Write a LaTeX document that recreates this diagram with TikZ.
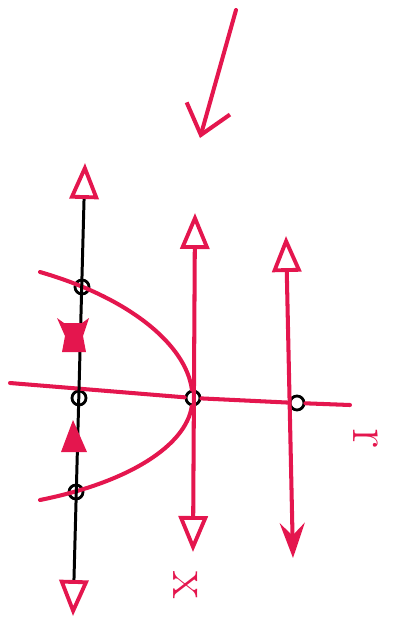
\documentclass[tikz,border=0pt]{standalone}
\usepackage{tikz}
\usetikzlibrary{arrows.meta}
\definecolor{penred}{RGB}{228,22,78}
\tikzset{tri/.tip={Triangle[open, length=0.72cm, width=0.58cm, line width=2.2pt, color=penred]}}

\begin{document}
\begin{tikzpicture}[x=0.02cm, y=-0.02cm,
                    pen/.style={draw=penred, line width=2.3pt, line cap=round, line join=round},
                    hole/.style={circle, draw=black, line width=1.6pt, minimum size=0.28cm, inner sep=0pt},
                    lbl/.style={text=penred, rotate=-90, inner sep=0pt, font=\fontsize{32}{34}\selectfont}]
                    \useasboundingbox (0,0) rectangle (398,630);
                    \coordinate (l1t) at (85,163); \coordinate (l1b) at (73,616);
                    \coordinate (l2t) at (195,213); \coordinate (l2b) at (193,552);
                    \coordinate (l3t) at (286,236); \coordinate (l3b) at (293,558);
                    \coordinate (hl) at (10,383); \coordinate (hr) at (350,405);
                    \coordinate (pt) at (40,272); \coordinate (pb) at (40,500);
                    \coordinate (s) at (236,10); \coordinate (e) at (200,138);
                    \node[hole] (a) at (82,287) {};
                    \node[hole] (b) at (79,398) {};
                    \node[hole] (c) at (76,492) {};
                    \node[hole] (v) at (193,398) {};
                    \node[hole] (w) at (297,403) {};
                    % red lines
                    \draw[pen, tri-tri] (l2t) -- (l2b);
                    \draw[pen, tri-{Stealth[length=0.7cm, width=0.5cm, inset=0.25cm]}] (l3t) -- (l3b);
                    \draw[pen] (hl) -- (v) -- (w) -- (hr);
                    \draw[pen] (pt) .. controls (130,298) and (186,345) .. (v);
                    \draw[pen] (v) .. controls (186,445) and (130,482) .. (pb);
                    \draw[pen, -{Straight Barb[length=0.55cm, width=0.9cm]}] (s) -- (e);
                    % black line
                    \draw[black, line width=1.7pt, tri-tri] (l1t) -- (l1b);
                    \fill[penred] (57,318) -- (64,323) -- (82,323) -- (89,318) -- (83,336) -- (86,352) -- (62,352) -- (65,336) -- cycle;
                    \fill[penred] (73,420) -- (87,452) -- (61,452) -- cycle;
                    \node[lbl] (r) at (366,438) {r};
                    \node[lbl] (x) at (186,585) {x};
                \end{tikzpicture}
\end{document}
